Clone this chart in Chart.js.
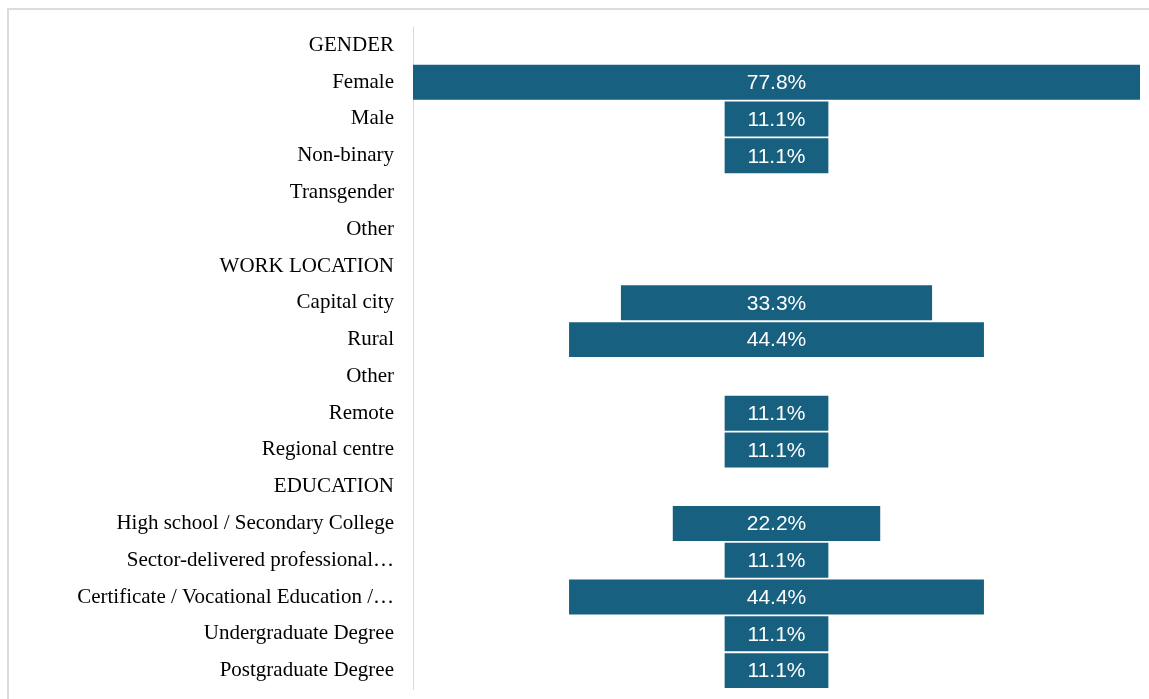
<!DOCTYPE html>
<html>
<head>
<meta charset="utf-8">
<script src="https://cdn.jsdelivr.net/npm/chart.js@4/dist/chart.umd.min.js"></script>
<style>
  html, body { margin: 0; padding: 0; background: #fff; overflow: hidden; }
  #frame {
    position: absolute; left: 7px; top: 8px; width: 1300px; height: 800px;
    border: 2px solid #dcdcdc; box-sizing: border-box;
  }
  #wrap { position: absolute; left: 0; top: 0; width: 1149px; height: 699px; }
</style>
</head>
<body>
<div id="frame"></div>
<div id="wrap"><canvas id="chart"></canvas></div>
<script>
// categories (section headers have no value)
const categories = [
  'GENDER', 'Female', 'Male', 'Non-binary', 'Transgender', 'Other',
  'WORK LOCATION', 'Capital city', 'Rural', 'Other', 'Remote', 'Regional centre',
  'EDUCATION', 'High school / Secondary College', 'Sector-delivered professional…',
  'Certificate / Vocational Education /…', 'Undergraduate Degree', 'Postgraduate Degree'
];

// share of respondents, %
const shares = [
  null, 77.8, 11.1, 11.1, null, null,
  null, 33.3, 44.4, null, 11.1, 11.1,
  null, 22.2, 11.1, 44.4, 11.1, 11.1
];

const barColor = '#17607f';
const half = 38.9;

// bars are centred on zero: [-v/2, v/2]
const centred = shares.map(v => v == null ? null : [-v / 2, v / 2]);

// white value labels drawn in the middle of each bar
const valueLabels = {
  id: 'valueLabels',
  afterDatasetsDraw(chart) {
    const ctx = chart.ctx;
    const meta = chart.getDatasetMeta(0);
    ctx.save();
    ctx.fillStyle = '#ffffff';
    ctx.font = '21px "Liberation Sans", Arial, sans-serif';
    ctx.textAlign = 'center';
    ctx.textBaseline = 'middle';
    meta.data.forEach((bar, i) => {
      if (shares[i] == null) return;
      ctx.fillText(shares[i].toFixed(1) + '%', chart.scales.x.getPixelForValue(0), bar.y + 1);
    });
    ctx.restore();
  }
};

new Chart(document.getElementById('chart'), {
  type: 'bar',
  data: {
    labels: categories,
    datasets: [{
      data: centred,
      backgroundColor: barColor,
      borderWidth: 0,
      barPercentage: 0.95,
      categoryPercentage: 1
    }]
  },
  options: {
    indexAxis: 'y',
    responsive: true,
    maintainAspectRatio: false,
    animation: false,
    layout: { padding: { left: 0, right: 9, top: 27, bottom: 10 } },
    scales: {
      x: {
        display: false,
        min: -half,
        max: half
      },
      y: {
        afterFit: scale => {
          scale.width = 413;
          scale.paddingTop = 0;
          scale.paddingBottom = 0;
        },
        grid: { display: false, drawTicks: false },
        border: { display: true, color: '#d9d9d9', width: 1 },
        ticks: {
          padding: 19,
          color: '#000',
          font: { family: '"Liberation Serif", "Times New Roman", serif', size: 21 }
        }
      }
    },
    plugins: {
      legend: { display: false },
      tooltip: { enabled: false }
    }
  },
  plugins: [valueLabels]
});
</script>
</body>
</html>
